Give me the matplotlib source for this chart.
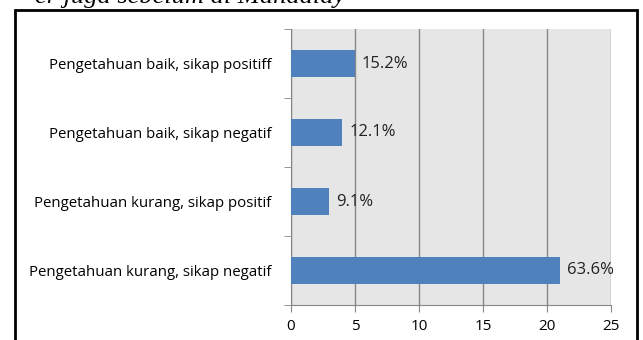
import matplotlib.pyplot as plt
from matplotlib.patches import Rectangle

categories = ["Pengetahuan baik, sikap positiff",
              "Pengetahuan baik, sikap negatif",
              "Pengetahuan kurang, sikap positif",
              "Pengetahuan kurang, sikap negatif"]
counts = [5, 4, 3, 21]
percent_labels = ["15.2%", "12.1%", "9.1%", "63.6%"]
x_ticks = [0, 5, 10, 15, 20, 25]

plt.rcParams['font.family'] = ['Open Sans', 'DejaVu Sans']

fig = plt.figure(figsize=(6.43, 3.40), dpi=100)
fig.patch.set_facecolor("white")

# outer frame of the chart (cut at the bottom)
fig.patches.append(Rectangle((15 / 643, -0.05), 622 / 643, 1.05 - 10 / 340,
                             transform=fig.transFigure, fill=False,
                             edgecolor="black", linewidth=2.0))

# caption text above, mostly cut off by the page crop
fig.text(35 / 643, 1.0 - 3 / 340, "er juga sebelum di Mandalay",
         family="Liberation Serif", fontsize=19, style="italic",
         ha="left", va="baseline")

ax = fig.add_axes([291 / 643, 1 - 305 / 340, 320 / 643, 276 / 340])
ax.set_facecolor("#e6e6e6")

y = list(range(len(categories)))
bars = ax.barh(y, counts, height=0.39, color="#4F81BD", zorder=3)
for b, lab in zip(bars, percent_labels):
    ax.annotate(lab, (b.get_width(), b.get_y() + b.get_height() / 2),
                xytext=(5, 0), textcoords="offset points",
                va="center", ha="left", fontsize=12, color="#222222", zorder=4)

ax.set_xlim(0, 25)
ax.set_ylim(len(categories) - 0.5, -0.5)
ax.set_xticks(x_ticks)
ax.set_yticks(y)
ax.set_yticklabels(categories, fontsize=10.8)
ax.set_yticks([i - 0.5 for i in range(len(categories) + 1)], minor=True)
ax.tick_params(axis="y", which="major", length=0, pad=14)
ax.tick_params(axis="y", which="minor", length=5, color="#868686")
ax.tick_params(axis="x", length=5, color="#868686", labelsize=11, pad=5)
ax.grid(axis="x", color="#868686", linewidth=1.0, zorder=1)
for side in ["top", "right"]:
    ax.spines[side].set_visible(False)
ax.spines["left"].set_color("#868686")
ax.spines["bottom"].set_color("#868686")

fig.savefig("out.png", dpi=100)
